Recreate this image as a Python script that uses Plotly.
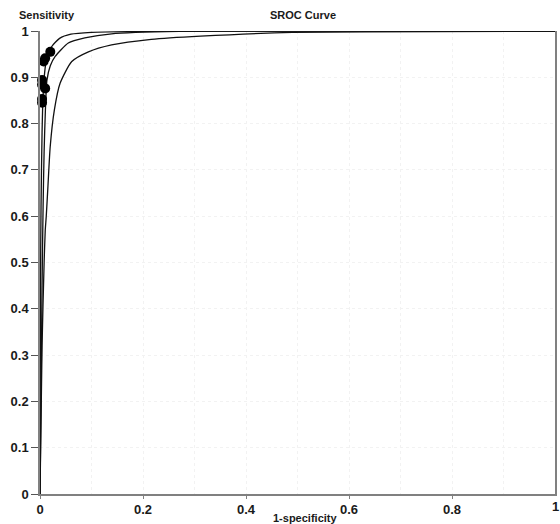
import plotly.graph_objects as go

# Upper confidence curve
upper_x = [0.0, 0.001, 0.002, 0.004, 0.006, 0.009, 0.012, 0.0225, 0.038, 0.06, 0.1, 0.2, 0.4, 1.0]
upper_y = [0.0, 0.45, 0.62, 0.78, 0.86, 0.91, 0.935, 0.966, 0.984, 0.993, 0.997, 0.999, 1.0, 1.0]

# SROC curve (middle)
sroc_x = [0.0, 0.002, 0.004, 0.006, 0.008, 0.0105, 0.0135, 0.02, 0.0295, 0.055, 0.087, 0.139, 0.27, 0.5, 1.0]
sroc_y = [0.0, 0.2, 0.45, 0.62, 0.74, 0.83, 0.894, 0.925, 0.945, 0.974, 0.985, 0.994, 0.999, 1.0, 1.0]

# Lower confidence curve
lower_x = [0.0, 0.004, 0.008, 0.0102, 0.0121, 0.0154, 0.0198, 0.028, 0.039, 0.0617, 0.094, 0.139, 0.216, 0.312, 0.49, 0.77, 1.0]
lower_y = [0.0, 0.32, 0.5, 0.57, 0.599, 0.664, 0.75, 0.83, 0.887, 0.934, 0.955, 0.970, 0.982, 0.989, 0.997, 0.9985, 1.0]

# Study points
study_x = [0.020, 0.010, 0.007, 0.004, 0.004, 0.010, 0.004, 0.004]
study_y = [0.955, 0.941, 0.934, 0.894, 0.884, 0.876, 0.853, 0.845]

x_ticks = [0, 0.2, 0.4, 0.6, 0.8, 1]
x_tick_text = ["0", "0.2", "0.4", "0.6", "0.8", "1"]
y_ticks = [0, 0.1, 0.2, 0.3, 0.4, 0.5, 0.6, 0.7, 0.8, 0.9, 1]
y_tick_text = ["0", "0.1", "0.2", "0.3", "0.4", "0.5", "0.6", "0.7", "0.8", "0.9", "1"]
x_grid = [0.1, 0.2, 0.3, 0.4, 0.5, 0.6, 0.7, 0.8, 0.9]

FONT = "Liberation Sans, Arial, sans-serif"
TXT = "#1a1a1a"

fig = go.Figure()
# dummy trace to activate xaxis2 (for minor x gridlines)
fig.add_trace(go.Scatter(x=[0.5], y=[0.5], xaxis="x2", mode="markers",
                         marker=dict(opacity=0), showlegend=False, hoverinfo="skip"))
line_style = dict(color="#111111", width=1.3, shape="spline", smoothing=0.6)
fig.add_trace(go.Scatter(x=lower_x, y=lower_y, mode="lines", line=line_style, showlegend=False, cliponaxis=False))
fig.add_trace(go.Scatter(x=sroc_x, y=sroc_y, mode="lines", line=line_style, showlegend=False, cliponaxis=False))
fig.add_trace(go.Scatter(x=upper_x, y=upper_y, mode="lines", line=line_style, showlegend=False, cliponaxis=False))
fig.add_trace(go.Scatter(x=study_x, y=study_y, mode="markers",
                         marker=dict(color="black", size=10, symbol="circle"),
                         showlegend=False, cliponaxis=False))

fig.update_layout(
    width=560, height=524,
    margin=dict(l=40, r=3, t=31, b=30),
    paper_bgcolor="white", plot_bgcolor="white",
    font=dict(family=FONT, size=13, color=TXT),
    xaxis=dict(range=[0, 1], tickvals=x_ticks[:-1], ticktext=["<b>%s</b>" % t for t in x_tick_text[:-1]],
               showgrid=False, zeroline=False, showline=True, linecolor="#808080", linewidth=1.5,
               ticks="outside", ticklen=3, tickcolor="#808080",
               tickfont=dict(family=FONT, size=13, color=TXT)),
    yaxis=dict(range=[0, 1], tickvals=y_ticks, ticktext=["<b>%s</b>" % t for t in y_tick_text],
               showgrid=True, gridcolor="#f2f2f2", griddash="dot", gridwidth=1,
               zeroline=False, showline=True, linecolor="#808080", linewidth=1.5, mirror=True,
               ticks="outside", ticklen=7, tickcolor="#555555",
               tickfont=dict(family=FONT, size=13, color=TXT)),
    xaxis2=dict(range=[0, 1], overlaying="x", tickvals=x_grid,
                showticklabels=False, showgrid=True, gridcolor="#f2f2f2", griddash="dot",
                zeroline=False, showline=False, ticks=""),
)

fig.add_annotation(text="<b>%s</b>" % x_tick_text[-1], xref="x", yref="paper", x=x_ticks[-1], y=0,
                   xanchor="center", yanchor="top", yshift=-3, showarrow=False,
                   font=dict(family=FONT, size=13, color=TXT))
fig.add_annotation(text="<b>Sensitivity</b>", xref="paper", yref="paper", x=-0.0445, y=1.0,
                   xanchor="left", yanchor="bottom", yshift=8, showarrow=False,
                   font=dict(family=FONT, size=11, color=TXT))
fig.add_annotation(text="<b>SROC Curve</b>", xref="paper", yref="paper", x=0.511, y=1.0,
                   xanchor="center", yanchor="bottom", yshift=8, showarrow=False,
                   font=dict(family=FONT, size=11, color=TXT))
fig.add_annotation(text="<b>1-specificity</b>", xref="paper", yref="paper", x=0.514, y=0,
                   xanchor="center", yanchor="top", yshift=-16, showarrow=False,
                   font=dict(family=FONT, size=11, color=TXT))

fig.write_html("out.html")
